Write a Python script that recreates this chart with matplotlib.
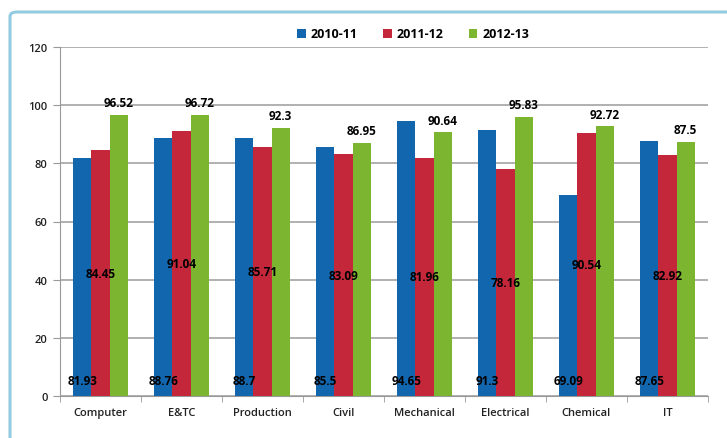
import matplotlib.pyplot as plt
import numpy as np
from matplotlib.patches import FancyBboxPatch

branches = ['Computer', 'E&TC', 'Production', 'Civil', 'Mechanical', 'Electrical', 'Chemical', 'IT']
years = ['2010-11', '2011-12', '2012-13']
res_2010 = [81.93, 88.76, 88.7, 85.5, 94.65, 91.3, 69.09, 87.65]
res_2011 = [84.45, 91.04, 85.71, 83.09, 81.96, 78.16, 90.54, 82.92]
res_2012 = [96.52, 96.72, 92.3, 86.95, 90.64, 95.83, 92.72, 87.5]
colores = ['#1266ae', '#c4273a', '#7cb530']

plt.rcParams['font.family'] = ['Open Sans', 'DejaVu Sans']

fig = plt.figure(figsize=(7.27, 4.39), dpi=100)
# marco azul claro del grafico (sale por la derecha y por abajo)
marco = FancyBboxPatch((10/727, -0.2), 1.2, 1.2 - 13/439, boxstyle='round,pad=0,rounding_size=0.01',
                       transform=fig.transFigure, fill=False, edgecolor='#93cbe0', linewidth=2.2)
fig.patches.append(marco)

ax = fig.add_axes([60/727, 1 - 397/439, 648/727, 349/439])
x = np.arange(len(branches))
w = 0.225
series = [res_2010, res_2011, res_2012]
for i, (vals, c, lab) in enumerate(zip(series, colores, years)):
    ax.bar(x + (i - 1) * w, vals, w, color=c, label=lab, zorder=3)

# etiquetas: base, centro y extremo (como en el original)
for xi, v in zip(x - w, res_2010):
    ax.text(xi, 5.5, f'{v:g}', ha='center', va='center', fontsize=8.5, fontweight='bold', zorder=4)
for xi, v in zip(x, res_2011):
    ax.text(xi, v / 2, f'{v:g}', ha='center', va='center', fontsize=8.5, fontweight='bold', zorder=4)
for xi, v in zip(x + w, res_2012):
    ax.text(xi, v + 2, f'{v:g}', ha='center', va='bottom', fontsize=8.5, fontweight='bold', zorder=4)

ax.set_xlim(-0.5, len(branches) - 0.5)
ax.set_ylim(0, 120)
ax.set_yticks(range(0, 121, 20))
ax.set_xticks(x)
ax.set_xticklabels(branches, fontsize=8, fontweight='semibold', color='#222222')
ax.set_xticks(np.arange(-0.5, len(branches), 1), minor=True)
ax.tick_params(axis='x', which='major', length=0, pad=8)
ax.tick_params(axis='x', which='minor', length=4, color='#999999')
ax.tick_params(axis='y', length=5, color='#999999', labelsize=8, pad=4, labelcolor='#222222')
for t in ax.get_yticklabels():
    t.set_fontweight('semibold')
ax.yaxis.grid(True, color='#b0b0b0', linewidth=1.4, zorder=0)
for s in ['top', 'right']:
    ax.spines[s].set_visible(False)
ax.spines['left'].set_color('#999999')
ax.spines['bottom'].set_color('#999999')

ax.legend(loc='center', bbox_to_anchor=(0.545, 1 + 13/349), ncol=3, frameon=False,
          handlelength=0.7, handleheight=0.7, columnspacing=2.0, handletextpad=0.4,
          prop={'weight': 'bold', 'size': 9})

plt.savefig('out.png', dpi=100)
